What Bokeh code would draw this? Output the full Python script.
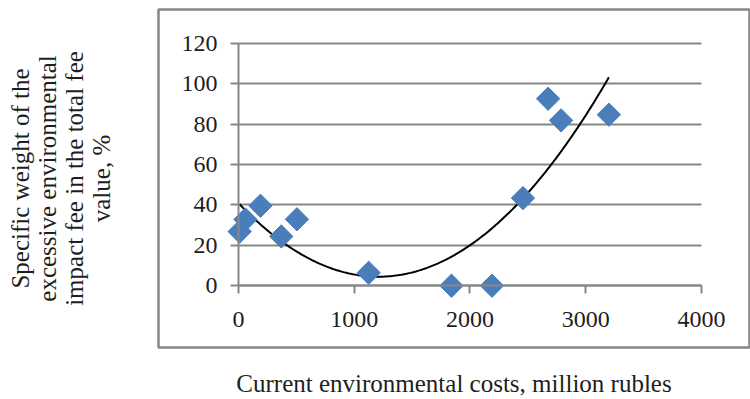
import numpy as np
from bokeh.plotting import figure
from bokeh.models import Range1d, FixedTicker, LinearAxis, ColumnDataSource
from bokeh.embed import file_html
from bokeh.resources import INLINE

# data
costs = [10, 60, 190, 370, 505, 1125, 1840, 2190, 2458, 2675, 2787, 3200]
share = [26.8, 32.8, 39.6, 24.4, 32.9, 6.4, 0, 0, 43.4, 92.6, 81.9, 84.7]
x_ticks = [0, 1000, 2000, 3000, 4000]
y_ticks = [0, 20, 40, 60, 80, 100, 120]
x_title = "Current environmental costs, million rubles"
y_title = "Specific weight of the\nexcessive environmental\nimpact fee in the total fee\nvalue, %"

FONT = "Liberation Serif"
GRAY = "#878787"
TXT = "#1e1e1e"

# the frame is the bordered chart area; axes sit at x=0 / y=0 inside it
p = figure(width=750, height=399, output_backend="svg", toolbar_location=None,
           x_range=Range1d(-691, 4415), y_range=Range1d(-30.6, 136.8),
           min_border_left=158, min_border_right=1, min_border_top=9, min_border_bottom=51)
p.outline_line_color = GRAY
p.outline_line_width = 2.5
p.background_fill_color = "white"
p.border_fill_color = "white"

p.xgrid.visible = False
p.ygrid.ticker = FixedTicker(ticks=y_ticks)
p.ygrid.grid_line_color = GRAY
p.ygrid.grid_line_width = 2
p.ygrid.cross_bounds = (0, 4000)

xa = p.xaxis[0]
ya = p.yaxis[0]
xa.fixed_location = 0
ya.fixed_location = 0
xa.bounds = (0, 4000)
ya.bounds = (0, 120)
for ax, ticks in ((xa, x_ticks), (ya, y_ticks)):
    ax.ticker = FixedTicker(ticks=ticks)
    ax.axis_line_color = GRAY
    ax.axis_line_width = 2
    ax.major_tick_line_color = GRAY
    ax.major_tick_line_width = 2
    ax.major_tick_in = 0
    ax.major_tick_out = 8
    ax.minor_tick_line_color = None
    ax.major_label_text_font = FONT
    ax.major_label_text_font_size = "24px"
    ax.major_label_text_color = TXT
xa.major_label_standoff = 18
ya.major_label_standoff = 13

# axis titles, outside the bordered area
def title_axis(text, size, standoff, line_height):
    return LinearAxis(ticker=FixedTicker(ticks=[]), axis_line_color=None,
                      major_tick_line_color=None, minor_tick_line_color=None,
                      major_tick_out=0, major_label_text_font_size="0px",
                      axis_label=text, axis_label_text_font=FONT,
                      axis_label_text_font_size=size, axis_label_text_font_style="normal",
                      axis_label_text_color=TXT, axis_label_standoff=standoff,
                      axis_label_text_line_height=line_height,
                      axis_label_text_align="center")

p.add_layout(title_axis(x_title, "25px", 22, 1.0), "below")
p.add_layout(title_axis(y_title, "25px", 44, 1.0), "left")

# polynomial (order 2) trend line, as Excel computes it
coef = np.polyfit(costs, share, 2)
xs = np.linspace(min(costs), max(costs), 200)
p.line(xs, np.polyval(coef, xs), line_color="black", line_width=2)

src = ColumnDataSource(dict(x=costs, y=share))
p.scatter("x", "y", source=src, marker="square", size=16.5, angle=np.pi / 4,
          fill_color="#4a7ebb", line_color="#4a7ebb")

open("out.html", "w").write(file_html(p, INLINE))
